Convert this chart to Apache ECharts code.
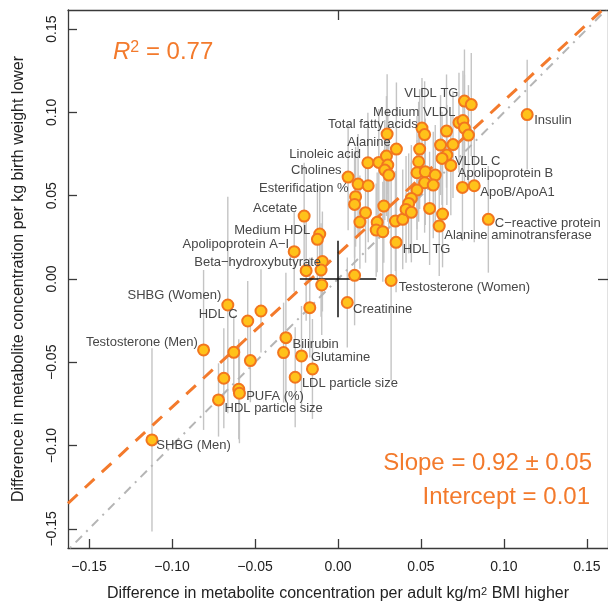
<!DOCTYPE html>
<html><head><meta charset="utf-8">
<script src="https://cdn.jsdelivr.net/npm/echarts@6/dist/echarts.min.js"></script>
<style>html,body{margin:0;padding:0;background:#fff}#c{width:608px;height:607px}</style>
</head><body><div id="c"></div>
<script>
// ---------------- DATA ----------------
const metabolites = [
  "VLDL TG","","Insulin","Medium VLDL","","","","Total fatty acids","","",
  "","Alanine","","","","VLDL C","","Apolipoprotein B","Linoleic acid","",
  "","","","","","","","","","",
  "","Cholines","","","Esterification %","","","","","",
  "","","","","","","","","","",
  "Alanine aminotransferase","","ApoB/ApoA1","C\u2212reactive protein","HDL TG","Testosterone (Women)","","","Beta\u2212hydroxybutyrate","",
  "","Acetate","","Medium HDL","Apolipoprotein A\u2212I","Creatinine","","SHBG (Women)","","HDL C",
  "Testosterone (Men)","","","Bilirubin","","Glutamine","","LDL particle size","","PUFA (%)",
  "","HDL particle size","SHBG (Men)"
];
// difference per adult kg/m2 BMI higher (x)
const bmiEffect = [
  0.0762,0.0803,0.1140,0.0729,0.0753,0.0762,0.0786,0.0506,0.0522,0.0654,
  0.0296,0.0352,0.0492,0.0618,0.0693,0.0656,0.0627,0.0680,0.0180,0.0246,
  0.0292,0.0300,0.0282,0.0306,0.0486,0.0476,0.0526,0.0586,0.0522,0.0574,
  0.0476,0.0061,0.0121,0.0182,0.0106,0.0100,0.0166,0.0132,0.0236,0.0230,
  0.0270,0.0276,0.0346,0.0390,0.0442,0.0426,0.0410,0.0442,0.0552,0.0630,
  0.0610,0.0750,0.0821,0.0906,0.0350,0.0320,0.0100,-0.0094,-0.0102,-0.0192,
  -0.0098,-0.0204,-0.0110,-0.0124,-0.0264,0.0056,-0.0170,-0.0664,-0.0464,-0.0544,
  -0.0810,-0.0628,-0.0528,-0.0314,-0.0328,-0.0220,-0.0154,-0.0258,-0.0688,-0.0598,
  -0.0594,-0.0720,-0.1121
];
// difference per kg birth weight lower (y)
const birthWeightEffect = [
  0.1068,0.1047,0.0987,0.0939,0.0951,0.0906,0.0864,0.0906,0.0867,0.0888,
  0.0870,0.0780,0.0780,0.0804,0.0807,0.0744,0.0724,0.0682,0.0698,0.0700,
  0.0738,0.0684,0.0654,0.0624,0.0704,0.0638,0.0644,0.0624,0.0578,0.0564,
  0.0534,0.0612,0.0570,0.0560,0.0494,0.0448,0.0398,0.0342,0.0340,0.0294,
  0.0284,0.0438,0.0348,0.0358,0.0484,0.0454,0.0418,0.0400,0.0424,0.0390,
  0.0318,0.0550,0.0560,0.0358,0.0220,-0.0009,0.0022,0.0105,0.0054,0.0050,
  -0.0036,0.0378,0.0270,0.0238,0.0164,-0.0141,-0.0172,-0.0156,-0.0192,-0.0252,
  -0.0426,-0.0440,-0.0490,-0.0352,-0.0442,-0.0462,-0.0540,-0.0590,-0.0596,-0.0662,
  -0.0686,-0.0726,-0.0966
];
// half-length of the vertical confidence bars (birth-weight axis)
const ciHalf = [
  0.031,0.031,0.033,0.030,0.030,0.032,0.030,0.030,0.032,0.034,
  0.036,0.040,0.036,0.030,0.032,0.030,0.028,0.030,0.030,0.032,
  0.036,0.034,0.030,0.032,0.036,0.034,0.032,0.030,0.030,0.032,
  0.030,0.032,0.030,0.034,0.030,0.032,0.030,0.028,0.030,0.028,
  0.030,0.034,0.030,0.030,0.032,0.030,0.032,0.030,0.034,0.032,
  0.030,0.032,0.034,0.032,0.030,0.060,0.030,0.030,0.028,0.030,
  0.030,0.032,0.030,0.030,0.024,0.027,0.030,0.065,0.025,0.024,
  0.048,0.022,0.025,0.039,0.030,0.030,0.030,0.030,0.030,0.030,
  0.030,0.022,0.055
];
const xTicks = [-0.15,-0.10,-0.05,0,0.05,0.10,0.15];
const yTicks = [-0.15,-0.10,-0.05,0,0.05,0.10,0.15];
const fitSlope = 0.92;
const fitInterceptDrawn = 0.015;
const originCrossHalf = 0.023;
const xRange = [-0.1627, 0.1627];
const yRange = [-0.1615, 0.1615];

// ---------------- STYLE ----------------
const FONT = "'Liberation Sans', Arial, Helvetica, sans-serif";
const ORANGE = '#F37A2C';
const labelPlacement = {
  'VLDL TG':['right',-6,-8], 'Insulin':['left',7,6], 'Medium VLDL':['right',-3.5,-10],
  'Total fatty acids':['right',-4.3,-4], 'Alanine':['right',-5.7,-6.3], 'VLDL C':['left',8,6.7],
  'Apolipoprotein B':['left',7,8], 'Linoleic acid':['right',-7,-8.7], 'Cholines':['right',-6.5,-7],
  'Esterification %':['right',-7,-8.4], 'Alanine aminotransferase':['left',5,9],
  'ApoB/ApoA1':['left',6,7], 'C\u2212reactive protein':['left',6.5,3.7], 'HDL TG':['left',6.7,7],
  'Testosterone (Women)':['left',7.7,7.2], 'Beta\u2212hydroxybutyrate':['right',0,-8],
  'Acetate':['right',-7,-7.7], 'Medium HDL':['right',-7.3,-8.6], 'Apolipoprotein A\u2212I':['right',-5,-7.4],
  'Creatinine':['left',5.7,6.5], 'SHBG (Women)':['right',-6.6,-10], 'HDL C':['right',-10,-6.7],
  'Testosterone (Men)':['right',-5.7,-7.7], 'Bilirubin':['left',6.6,6.6], 'Glutamine':['left',9.4,1.3],
  'LDL particle size':['left',6.7,6], 'PUFA (%)':['left',7.4,7.4], 'HDL particle size':['left',6,8.3],
  'SHBG (Men)':['left',4.4,6]
};

const fmt = v => (v < -1e-9 ? '\u2212' : '') + Math.abs(v).toFixed(2);

const scatterData = bmiEffect.map((x, i) => {
  const name = metabolites[i];
  const item = { name: name, value: [x, birthWeightEffect[i]] };
  if (name && labelPlacement[name]) {
    const p = labelPlacement[name];
    item.label = {
      show: true, formatter: name, position: ['50%','50%'],
      align: p[0], verticalAlign: 'middle', offset: [p[1], p[2]],
      color: '#474747', fontSize: 13, fontFamily: FONT
    };
  }
  return item;
});
const barData = bmiEffect.map((x, i) => [x, birthWeightEffect[i], ciHalf[i]]);
const fitData = [
  [xRange[0], fitSlope * xRange[0] + fitInterceptDrawn],
  [(yRange[1] - fitInterceptDrawn) / fitSlope, yRange[1]]
];

const chart = echarts.init(document.getElementById('c'), null, { renderer: 'canvas' });
const axisLineStyle = { color: '#3a3a3a', width: 1.3 };
chart.setOption({
  animation: false,
  backgroundColor: '#fff',
  textStyle: { fontFamily: FONT },
  grid: { left: 68, top: 10, right: -2, bottom: 59, containLabel: false },
  xAxis: [{
    type: 'value', min: xRange[0], max: xRange[1], position: 'bottom',
    axisLine: { show: true, onZero: false, lineStyle: axisLineStyle },
    axisTick: { show: true, inside: true, length: 9, customValues: xTicks, lineStyle: axisLineStyle },
    axisLabel: { customValues: xTicks, formatter: fmt, margin: 12, fontSize: 14, color: '#222', fontFamily: FONT },
    splitLine: { show: false },
    name: 'Difference in metabolite concentration per adult kg/m{sup|2} BMI higher',
    nameLocation: 'middle', nameGap: 38,
    nameTextStyle: { fontSize: 16, color: '#222', fontFamily: FONT,
      rich: { sup: { fontSize: 11, verticalAlign: 'top', color: '#222', fontFamily: FONT } } }
  }, {
    type: 'value', min: xRange[0], max: xRange[1], position: 'top',
    axisLine: { show: true, onZero: false, lineStyle: axisLineStyle },
    axisTick: { show: true, inside: true, length: 10, customValues: [0], lineStyle: axisLineStyle },
    axisLabel: { show: false }, splitLine: { show: false }
  }],
  yAxis: [{
    type: 'value', min: yRange[0], max: yRange[1], position: 'left',
    axisLine: { show: true, onZero: false, lineStyle: axisLineStyle },
    axisTick: { show: true, inside: true, length: 9, customValues: yTicks, lineStyle: axisLineStyle },
    axisLabel: { customValues: yTicks, formatter: fmt, rotate: 90, margin: 9, fontSize: 14, color: '#222', fontFamily: FONT },
    splitLine: { show: false },
    name: 'Difference in metabolite concentration per kg birth weight lower',
    nameLocation: 'middle', nameGap: 41,
    nameTextStyle: { fontSize: 16, color: '#222', fontFamily: FONT }
  }, {
    type: 'value', min: yRange[0], max: yRange[1], position: 'right',
    axisLine: { show: true, onZero: false, lineStyle: axisLineStyle },
    axisTick: { show: true, inside: true, length: 10, customValues: [0], lineStyle: axisLineStyle },
    axisLabel: { show: false }, splitLine: { show: false }
  }],
  series: [
    {
      type: 'custom', name: 'ci', data: barData, silent: true, z: 1,
      encode: { x: 0, y: 1 },
      renderItem: (params, api) => {
        const x = api.value(0), y = api.value(1), e = api.value(2);
        const a = api.coord([x, y - e]), b = api.coord([x, y + e]);
        return { type: 'line', shape: { x1: a[0], y1: a[1], x2: b[0], y2: b[1] },
          style: { stroke: '#c4c4c4', lineWidth: 1.4 } };
      }
    },
    {
      type: 'line', name: 'identity', data: [[yRange[0], yRange[0]], [yRange[1], yRange[1]]],
      symbol: 'none', silent: true, z: 2,
      lineStyle: { color: '#b5b5b5', width: 2, type: [2, 6, 9, 6] }
    },
    {
      type: 'line', name: 'fit', data: fitData, symbol: 'none', silent: true, z: 3,
      lineStyle: { color: ORANGE, width: 3, type: [13, 10] }
    },
    {
      type: 'custom', name: 'origin', data: [[0, 0]], silent: true, z: 4,
      encode: { x: 0, y: 1 },
      renderItem: (params, api) => {
        const h1 = api.coord([-originCrossHalf, 0]), h2 = api.coord([originCrossHalf, 0]);
        const v1 = api.coord([0, -originCrossHalf]), v2 = api.coord([0, originCrossHalf]);
        const st = { stroke: '#111', lineWidth: 1.5 };
        return { type: 'group', children: [
          { type: 'line', shape: { x1: h1[0], y1: h1[1], x2: h2[0], y2: h2[1] }, style: st },
          { type: 'line', shape: { x1: v1[0], y1: v1[1], x2: v2[0], y2: v2[1] }, style: st }
        ] };
      }
    },
    {
      type: 'scatter', name: 'metabolites', data: scatterData, z: 5,
      symbol: 'circle', symbolSize: 11,
      itemStyle: { color: '#FFC21A', borderColor: '#F2761E', borderWidth: 2, opacity: 1 },
      label: { show: false }
    }
  ],
  graphic: [
    { type: 'text', x: 113, y: 52, z: 10, style: {
      text: '{i|R}{s|2}{t| = 0.77}', align: 'left', verticalAlign: 'middle',
      rich: {
        i: { fontSize: 24, fontStyle: 'italic', fill: ORANGE, fontFamily: FONT },
        s: { fontSize: 16, fill: ORANGE, fontFamily: FONT, verticalAlign: 'top' },
        t: { fontSize: 24, fill: ORANGE, fontFamily: FONT }
      } } },
    { type: 'text', x: 592, y: 463, z: 10, style: {
      text: 'Slope = 0.92 \u00b1 0.05', fontSize: 24, fontFamily: FONT, fill: ORANGE,
      align: 'right', verticalAlign: 'middle' } },
    { type: 'text', x: 590, y: 497, z: 10, style: {
      text: 'Intercept = 0.01', fontSize: 24, fontFamily: FONT, fill: ORANGE,
      align: 'right', verticalAlign: 'middle' } }
  ]
});
</script></body></html>
